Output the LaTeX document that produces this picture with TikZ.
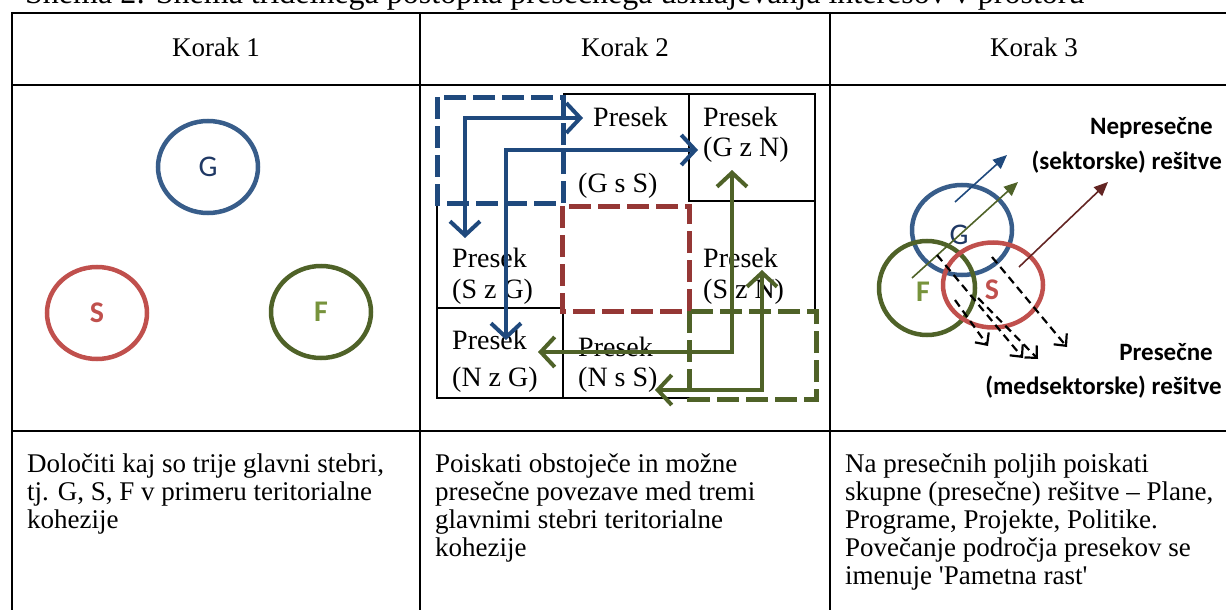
\documentclass[tikz,border=0pt]{standalone}
\usepackage{fontspec}
\setmainfont{Liberation Serif}
\newfontfamily\calibri{Carlito}
\usetikzlibrary{arrows.meta,shapes.geometric}
\definecolor{cblue}{RGB}{56,93,138}
\definecolor{cnavy}{RGB}{31,56,100}
\definecolor{cred}{RGB}{192,80,77}
\definecolor{cgreen}{RGB}{79,98,40}
\definecolor{cgreentxt}{RGB}{119,147,60}
\definecolor{dblue}{RGB}{31,73,125}
\definecolor{dred}{RGB}{149,55,53}
\definecolor{ddred}{RGB}{99,37,35}
\begin{document}
\begin{tikzpicture}[x=1pt,y=-1pt,
  tline/.style={line width=2pt,black},
  cell/.style={line width=1.4pt,black},
  circ/.style={ellipse,line width=4.5pt,minimum width=100pt,minimum height=92pt,inner sep=0pt,font=\calibri\fontsize{30}{32}\selectfont},
  body/.style={inner sep=0pt,align=left,anchor=north west,font=\fontsize{27}{28}\selectfont},
  hdr/.style={inner sep=0pt,font=\fontsize{27}{28}\selectfont},
  ptxt/.style={inner sep=0pt,anchor=west,font=\fontsize{28}{30}\selectfont},
  dbox/.style={line width=5pt,dash pattern=on 22pt off 7pt},
  elbow/.style={line width=4pt,{Straight Barb[length=14pt,width=30pt]}-{Straight Barb[length=14pt,width=30pt]}},
  thinarr/.style={line width=1.6pt,-{Triangle[length=14pt,width=12pt]}},
  dasharr/.style={line width=2.2pt,black,dash pattern=on 8pt off 5pt,-{Straight Barb[length=9pt,width=17pt]}},
  lbl/.style={inner sep=0pt,anchor=east,font=\calibri\bfseries\fontsize{25}{27}\selectfont},
  ctxt/.style={inner sep=0pt,font=\calibri\fontsize{30}{32}\selectfont},
  cbtxt/.style={inner sep=0pt,font=\calibri\bfseries\fontsize{30}{32}\selectfont}
]
\useasboundingbox (0,0) rectangle (1226,610);

% title (cut at top)
\node[inner sep=0pt,anchor=base west,font=\fontsize{32}{34}\selectfont] (title) at (25,4) {Shema 2: Shema tridelnega postopka presečnega usklajevanja interesov v prostoru};

% table
\draw[tline] (11,13) -- (1230,13);
\draw[tline] (11,85) -- (1230,85);
\draw[tline] (11,431) -- (1230,431);
\draw[tline] (12,12) -- (12,612);
\draw[tline] (420,12) -- (420,612);
\draw[tline] (830,12) -- (830,612);

% headers
\node[hdr] (k1) at (216,47) {Korak 1};
\node[hdr] (k2) at (625,47) {Korak 2};
\node[hdr] (k3) at (1034,47) {Korak 3};

% bottom texts
\node[body] (t1) at (27,454) {Določiti kaj so trije glavni stebri,\\tj. G, S, F v primeru teritorialne\\kohezije};
\node[body] (t2) at (435,454) {Poiskati obstoječe in možne\\presečne povezave med tremi\\glavnimi stebri teritorialne\\kohezije};
\node[body] (t3) at (845,454) {Na presečnih poljih poiskati\\skupne (presečne) rešitve – Plane,\\Programe, Projekte, Politike.\\Povečanje področja presekov se\\imenuje \textquotesingle Pametna rast\textquotesingle};

% step 1 circles
\node[circ,draw=cblue,text=cnavy] (G1) at (208,167) {G};
\node[circ,draw=cred,text=cred,font=\calibri\bfseries\fontsize{30}{32}\selectfont] (S1) at (97,313) {S};
\node[circ,draw=cgreen,text=cgreentxt,font=\calibri\bfseries\fontsize{30}{32}\selectfont] (F1) at (321,312) {F};

% step 2 grid
\draw[cell] (563,94) -- (815,94) -- (815,310);
\draw[cell] (689,94) -- (689,201) -- (815,201);
\draw[cell] (437,203) -- (437,398) -- (690,398);
\draw[cell] (437,308) -- (563,308) -- (563,398);

% step 2 texts
\node[ptxt] (gs1) at (593,117) {Presek};
\node[ptxt] (gs2) at (578,186) {(G s S)};
\node[ptxt] (gn1) at (703,117) {Presek};
\node[ptxt] (gn2) at (703,150) {(G z N)};
\node[ptxt] (sg1) at (452,258) {Presek};
\node[ptxt] (sg2) at (452,292) {(S z G)};
\node[ptxt] (sn1) at (703,258) {Presek};
\node[ptxt] (sn2) at (703,292) {(S z N)};
\node[ptxt] (ng1) at (452,340) {Presek};
\node[ptxt] (ng2) at (452,380) {(N z G)};
\node[ptxt] (ns1) at (578,347) {Presek};
\node[ptxt] (ns2) at (578,380) {(N s S)};

% dashed boxes
\draw[dbox,dblue] (437,97) rectangle (563,203);
\draw[dbox,dred] (562,206) rectangle (689,311);
\draw[dbox,cgreen] (689,311) rectangle (816,399);

% elbow arrows
\coordinate (b1a) at (465,238);
\coordinate (b1b) at (583,118);
\coordinate (b2a) at (506,340);
\coordinate (b2b) at (698,150);
\coordinate (g1a) at (732,170);
\coordinate (g1b) at (538,352);
\coordinate (g2a) at (762,270);
\coordinate (g2b) at (655,390);
\draw[elbow,dblue] (b1a) |- (b1b);
\draw[elbow,dblue] (b2a) |- (b2b);
\draw[elbow,cgreen] (g1a) |- (g1b);
\draw[elbow,cgreen] (g2a) |- (g2b);

% step 3 circles
\node[circ,draw=cblue,minimum width=100pt,minimum height=90pt] (G3) at (962,230) {};
\node[circ,draw=cgreen,minimum width=96pt,minimum height=94pt] (F3) at (927,288) {};
\node[circ,draw=cred,minimum width=100pt,minimum height=85pt] (S3) at (993,285) {};
\node[ctxt,text=cnavy] (G3t) at (959,235) {G};
\node[cbtxt,text=cgreentxt] (F3t) at (923,292) {F};
\node[cbtxt,text=cred] (S3t) at (992,290) {S};

% step 3 arrows
\coordinate (ab0) at (955,202);
\coordinate (ab1) at (1007,155);
\coordinate (ag0) at (912,278);
\coordinate (ag1) at (1018,182);
\coordinate (ar0) at (1019,267);
\coordinate (ar1) at (1108,182);
\draw[thinarr,dblue] (ab0) -- (ab1);
\draw[thinarr,cgreen] (ag0) -- (ag1);
\draw[thinarr,ddred] (ar0) -- (ar1);

\coordinate (d1a) at (937,255);
\coordinate (d1b) at (1023,358);
\coordinate (d2a) at (992,257);
\coordinate (d2b) at (1067,347);
\coordinate (d3a) at (955,300);
\coordinate (d3b) at (988,346);
\coordinate (d4a) at (978,298);
\coordinate (d4b) at (1038,359);
\draw[dasharr] (d1a) -- (d1b);
\draw[dasharr] (d2a) -- (d2b);
\draw[dasharr] (d3a) -- (d3b);
\draw[dasharr] (d4a) -- (d4b);

% step 3 labels
\node[lbl] (l1) at (1213,128) {Nepresečne};
\node[lbl] (l2) at (1222,162) {(sektorske) rešitve};
\node[lbl] (l3) at (1213,352) {Presečne};
\node[lbl] (l4) at (1222,387) {(medsektorske) rešitve};
\end{tikzpicture}
\end{document}
